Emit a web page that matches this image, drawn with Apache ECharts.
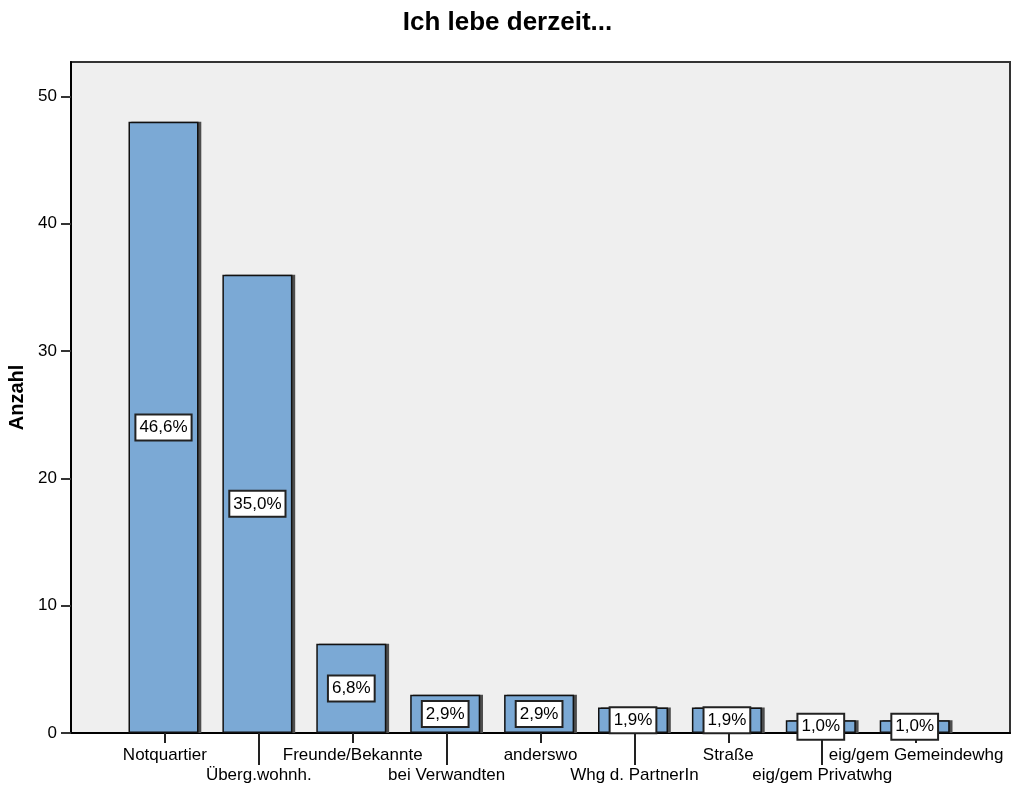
<!DOCTYPE html>
<html>
<head>
<meta charset="utf-8">
<script src="https://cdn.jsdelivr.net/npm/echarts@6/dist/echarts.min.js"></script>
<style>
  html, body { margin: 0; padding: 0; background: #fff; }
  #chart { width: 1015px; height: 787px; }
</style>
</head>
<body>
<div id="chart"></div>
<script>
// categories in the order of the bars
var categories = ['Notquartier', 'Überg.wohnh.', 'Freunde/Bekannte', 'bei Verwandten', 'anderswo',
                  'Whg d. PartnerIn', 'Straße', 'eig/gem Privatwhg', 'eig/gem Gemeindewhg'];
// Anzahl per category
var counts = [48, 36, 7, 3, 3, 2, 2, 1, 1];
// percent labels as shown on the bars
var percents = ['46,6%', '35,0%', '6,8%', '2,9%', '2,9%', '1,9%', '1,9%', '1,0%', '1,0%'];
var yTicks = [0, 10, 20, 30, 40, 50];

// bars sit at positions 1..9 on a 0..10 axis
var positions = categories.map(function (c, i) { return i + 1; });
var oddPos = positions.filter(function (p) { return p % 2 === 1; });
var evenPos = positions.filter(function (p) { return p % 2 === 0; });
var barData = counts.map(function (v, i) { return [positions[i], v]; });

function catLabel(v) {
  var i = Math.round(v) - 1;
  return categories[i] || '';
}

var font = 'Liberation Sans, Arial, sans-serif';
var chart = echarts.init(document.getElementById('chart'));
chart.setOption({
  backgroundColor: '#fff',
  animation: false,
  title: {
    text: 'Ich lebe derzeit...',
    left: 'center',
    top: 5,
    textStyle: { fontFamily: font, fontSize: 26, fontWeight: 'bold', color: '#000' }
  },
  grid: {
    left: 71, right: 5, top: 62, bottom: 54,
    outerBoundsMode: 'none',
    containLabel: false,
    show: true,
    backgroundColor: '#efefef',
    borderColor: '#333',
    borderWidth: 2
  },
  xAxis: [
    {
      type: 'value', min: 0, max: 10,
      splitLine: { show: false },
      axisLine: { show: true, onZero: false, lineStyle: { color: '#000', width: 2 } },
      axisTick: { show: true, length: 10, customValues: oddPos, lineStyle: { color: '#222', width: 2 } },
      axisLabel: {
        customValues: oddPos, margin: 14, formatter: catLabel,
        fontFamily: font, fontSize: 17, color: '#000'
      }
    },
    {
      type: 'value', min: 0, max: 10, position: 'bottom',
      splitLine: { show: false },
      axisLine: { show: false },
      axisTick: { show: true, length: 32, customValues: evenPos, lineStyle: { color: '#222', width: 2 } },
      axisLabel: {
        customValues: evenPos, margin: 34, formatter: catLabel,
        fontFamily: font, fontSize: 17, color: '#000'
      }
    }
  ],
  yAxis: {
    type: 'value', min: 0, max: 52.7,
    name: 'Anzahl',
    nameLocation: 'middle',
    nameGap: 44,
    nameTextStyle: { fontFamily: font, fontSize: 20, fontWeight: 'bold', color: '#000' },
    splitLine: { show: false },
    axisLine: { show: true, lineStyle: { color: '#000', width: 2 } },
    axisTick: { show: true, length: 10, customValues: yTicks, lineStyle: { color: '#333', width: 2 } },
    axisLabel: { customValues: yTicks, margin: 14, fontFamily: font, fontSize: 17, color: '#000' }
  },
  series: [
    {
      type: 'bar',
      xAxisIndex: 0,
      barWidth: 70,
      z: 3,
      data: barData,
      itemStyle: {
        color: '#7ba9d5',
        borderColor: '#111',
        borderWidth: 1.5
      },
      label: {
        show: true,
        position: 'inside',
        formatter: function (p) { return percents[p.dataIndex]; },
        fontFamily: font,
        fontSize: 17,
        color: '#000',
        backgroundColor: '#fff',
        borderColor: '#222',
        borderWidth: 2,
        padding: [4, 3, 3, 3]
      }
    },
    {
      // dark edge on the right side of each bar, drawn behind
      type: 'bar',
      xAxisIndex: 0,
      barWidth: 70,
      barGap: '-96%',
      z: 1,
      silent: true,
      data: barData,
      itemStyle: { color: '#4d4d4d' }
    }
  ]
});
</script>
</body>
</html>
